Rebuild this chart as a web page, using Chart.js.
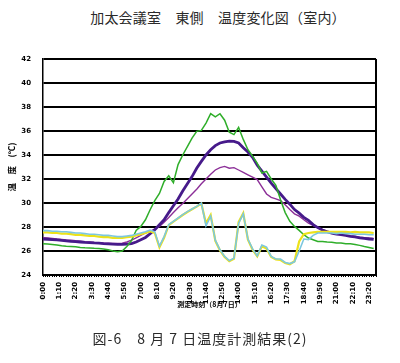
<!DOCTYPE html>
<html>
<head>
<meta charset="utf-8">
<script src="https://cdn.jsdelivr.net/npm/chart.js@4.4.0/dist/chart.umd.min.js"></script>
<style>
  html, body { margin: 0; padding: 0; background: #fff; }
  #wrap { position: relative; width: 400px; height: 363px; overflow: hidden; }
  canvas { position: absolute; left: 0; top: 0; }
  .cap { position: absolute; left: 0; width: 400px; text-align: center; font-family: "Noto Sans CJK JP", sans-serif; color: #2a2a2a; white-space: nowrap; }
  #title { top: 7px; font-size: 14px; padding-left: 18px; letter-spacing: 0.2px; }
  #caption { top: 328px; font-size: 14px; padding-right: 17px; letter-spacing: 1px; }
</style>
</head>
<body>
<div id="wrap">
  <div id="title" class="cap">加太会議室　東側　温度変化図（室内）</div>
  <canvas id="c" width="400" height="363"></canvas>
  <div id="caption" class="cap">図-6　8 月 7 日温度計測結果(2)</div>
</div>
<script>
// measurement times (minutes from 0:00, every 20 min)
const times = [0,20,40,60,80,100,120,140,160,180,200,220,240,260,280,300,320,340,360,380,400,420,440,460,480,500,520,540,560,580,600,620,640,660,680,700,720,740,760,780,800,820,840,860,880,900,920,940,960,980,1000,1020,1040,1060,1080,1100,1120,1140,1160,1180,1200,1220,1240,1260,1280,1300,1320,1340,1360,1380,1400,1420];

// y tick values (°C)
const yTicks = [24,26,28,30,32,34,36,38,40,42];

// series (°C)
const green = [26.6,26.58,26.55,26.5,26.44,26.4,26.38,26.36,26.3,26.27,
  26.25,26.22,26.2,26.16,26.1,26.0,25.94,26.0,26.38,26.86,
  27.72,28.05,28.6,29.44,30.2,30.8,31.8,32.27,31.7,33.2,
  34.0,34.7,35.4,35.97,36.05,36.66,37.44,37.17,37.44,36.9,
  35.9,35.7,36.3,35.3,34.44,33.9,33.3,32.5,32.64,32.0,
  31.47,30.27,29.2,28.47,28.05,27.72,27.36,27.08,26.94,26.8,
  26.8,26.75,26.72,26.67,26.67,26.6,26.6,26.55,26.47,26.38,
  26.3,26.2];
const indigo = [27.0,26.98,26.95,26.92,26.88,26.85,26.8,26.78,26.75,26.72,
  26.7,26.67,26.65,26.62,26.6,26.58,26.56,26.56,26.58,26.62,
  26.75,26.94,27.13,27.44,27.78,28.19,28.6,29.2,29.77,30.33,
  31.0,31.6,32.2,32.9,33.47,34.0,34.44,34.78,35.0,35.1,
  35.16,35.13,35.0,34.6,34.25,33.8,33.15,32.65,32.15,31.65,
  31.2,30.75,30.3,29.9,29.45,29.15,28.8,28.55,28.2,27.95,
  27.75,27.6,27.48,27.4,27.36,27.3,27.22,27.17,27.1,27.05,
  27.0,26.96];
const magenta = [27.1,27.08,27.05,27.0,26.97,26.93,26.9,26.85,26.82,26.78,
  26.75,26.72,26.7,26.67,26.65,26.63,26.62,26.65,26.75,26.9,
  27.1,27.3,27.5,27.65,27.8,28.05,28.4,28.8,29.2,29.6,
  29.95,30.35,30.75,31.15,31.6,32.0,32.4,32.75,32.95,33.05,
  32.9,32.95,32.75,32.55,32.35,32.15,31.95,31.35,30.75,30.47,
  30.35,30.2,29.86,29.45,29.1,28.9,28.6,28.33,28.14,27.95,
  27.78,27.66,27.55,27.44,27.36,27.3,27.25,27.22,27.16,27.1,
  27.08,27.05];
const yellow = [27.55,27.55,27.5,27.5,27.45,27.45,27.4,27.35,27.35,27.3,
  27.25,27.25,27.2,27.15,27.15,27.1,27.1,27.1,27.15,27.2,
  27.3,27.4,27.5,27.65,27.5,26.3,27.1,28.15,28.45,28.72,
  29.0,29.25,29.48,29.7,29.95,28.3,29.0,26.85,26.05,25.5,
  25.15,25.35,28.4,29.15,26.95,26.1,25.55,26.4,26.2,25.5,
  25.3,25.25,25.0,24.9,25.15,26.8,27.4,27.5,27.55,27.6,
  27.6,27.6,27.6,27.6,27.6,27.6,27.55,27.6,27.55,27.55,
  27.55,27.5];
const cyan = [27.7,27.7,27.65,27.65,27.6,27.6,27.55,27.5,27.5,27.45,
  27.4,27.4,27.35,27.3,27.3,27.25,27.2,27.2,27.25,27.3,
  27.4,27.5,27.6,27.75,27.6,26.4,27.2,28.2,28.47,28.75,
  29.03,29.28,29.5,29.72,30.0,28.1,28.9,26.9,26.1,25.55,
  25.2,25.4,28.3,29.1,27.0,26.17,25.6,26.5,26.33,25.55,
  25.33,25.33,25.05,24.95,25.1,26.0,27.0,26.95,27.3,27.5,
  27.5,27.5,27.5,27.45,27.5,27.45,27.45,27.4,27.4,27.4,
  27.35,27.35];

function pts(vals) { return vals.map((v, i) => ({ x: times[i], y: v })); }
function fmt(m) { const h = Math.floor(m / 60), mm = m % 60; return h + ':' + (mm < 10 ? '0' : '') + mm; }

const frame = {
  id: 'frame',
  afterDatasetsDraw(chart) {
    const a = chart.chartArea, ctx = chart.ctx;
    ctx.save();
    ctx.strokeStyle = '#000';
    ctx.lineWidth = 2;
    ctx.beginPath();
    ctx.moveTo(a.right, a.top);
    ctx.lineTo(a.right, a.bottom);
    ctx.stroke();
    ctx.restore();
  }
};

new Chart(document.getElementById('c'), {
  type: 'line',
  data: {
    datasets: [
      { label: 'cyan', data: pts(cyan), borderColor: '#7cc7df', borderWidth: 1.6, order: 1 },
      { label: 'yellow', data: pts(yellow), borderColor: '#ece21a', borderWidth: 2.2, order: 2 },
      { label: 'green', data: pts(green), borderColor: '#2fae2a', borderWidth: 1.5, order: 3 },
      { label: 'indigo', data: pts(indigo), borderColor: '#461a8a', borderWidth: 2.8, order: 4 },
      { label: 'magenta', data: pts(magenta), borderColor: '#8c2f98', borderWidth: 1.4, order: 5 }
    ]
  },
  options: {
    responsive: false,
    animation: false,
    events: [],
    elements: { point: { radius: 0 }, line: { tension: 0, fill: false } },
    layout: { padding: { left: 0, right: 24, top: 59, bottom: 52 } },
    plugins: { legend: { display: false }, tooltip: { enabled: false }, title: { display: false } },
    scales: {
      x: {
        type: 'linear',
        min: 0, max: 1430,
        afterFit(s) { s.height = 36; },
        afterBuildTicks(s) {
          const t = [];
          for (let m = 0; m <= 1430; m += 10) t.push({ value: m });
          s.ticks = t;
        },
        ticks: {
          autoSkip: false,
          minRotation: 90, maxRotation: 90,
          padding: 5,
          color: '#000',
          font: { family: 'DejaVu Sans', size: 7, weight: 'bold' },
          callback(v) { return v % 70 === 0 ? fmt(v) : ''; }
        },
        grid: { drawOnChartArea: false, drawTicks: true, tickLength: 2, color: '#000', lineWidth: 1 },
        border: { display: true, color: '#000', width: 2, dash: [1.5, 1] },
        title: { display: true, text: '測定時刻（8月7日）', color: '#000', padding: { top: 0, bottom: 2 },
                 font: { family: 'Noto Sans CJK JP', size: 7, weight: 'bold' } }
      },
      y: {
        min: 24, max: 42,
        afterFit(s) { s.width = 43; },
        afterBuildTicks(s) { s.ticks = yTicks.map(v => ({ value: v })); },
        ticks: {
          color: '#000', padding: 12,
          font: { family: 'DejaVu Sans', size: 7, weight: 'bold' }
        },
        grid: { drawTicks: false, color: ctx => (ctx.tick && ctx.tick.value === 24 ? 'rgba(0,0,0,0)' : '#000'), lineWidth: 2 },
        border: { display: true, color: '#000', width: 1.5 },
        title: { display: true, text: '温　度　(℃)', color: '#000', padding: { top: 7, bottom: 0 },
                 font: { family: 'Noto Sans CJK JP', size: 8.5, weight: 'bold' } }
      }
    }
  },
  plugins: [frame]
});
</script>
</body>
</html>
